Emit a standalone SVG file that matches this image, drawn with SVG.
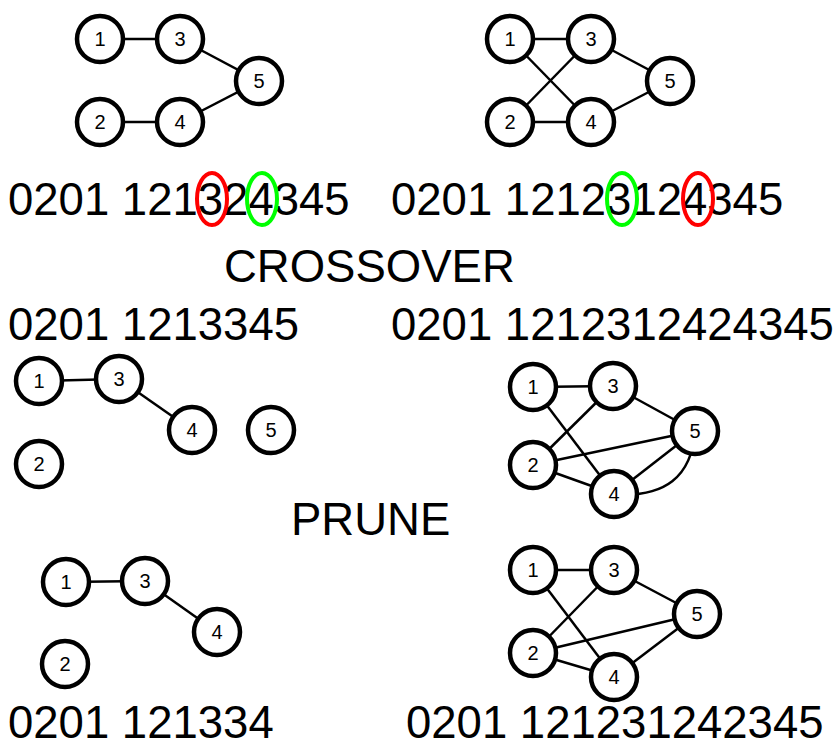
<svg xmlns="http://www.w3.org/2000/svg" width="840" height="744" viewBox="0 0 840 744">
<style>
.n circle{fill:#fff;stroke:#000;stroke-width:4.5}
.n text{font-family:"Liberation Sans",Arial,sans-serif;font-size:20px;text-anchor:middle;dominant-baseline:central}
.e line,.e path{stroke:#000;stroke-width:2.5;fill:none}
.t{font-family:"Liberation Sans",Arial,sans-serif;font-size:45.5px;fill:#000}
.ov{fill:none;stroke-width:4}
</style>
<rect width="840" height="744" fill="#fff"/>
<!-- Graph A (top-left) -->
<g class="e" id="edgesA">
<line x1="100" y1="39" x2="180" y2="39"/>
<line x1="100" y1="122" x2="180" y2="122"/>
<line x1="180" y1="39" x2="259" y2="81"/>
<line x1="180" y1="122" x2="259" y2="81"/>
</g>
<g class="n" id="A1"><circle cx="100" cy="39" r="23"/><text x="100" y="39">1</text></g>
<g class="n" id="A3"><circle cx="180" cy="39" r="23"/><text x="180" y="39">3</text></g>
<g class="n" id="A5"><circle cx="259" cy="81" r="23"/><text x="259" y="81">5</text></g>
<g class="n" id="A2"><circle cx="100" cy="122" r="23"/><text x="100" y="122">2</text></g>
<g class="n" id="A4"><circle cx="180" cy="122" r="23"/><text x="180" y="122">4</text></g>
<!-- Graph B (top-right) -->
<g class="e" id="edgesB">
<line x1="510" y1="39" x2="591" y2="39"/>
<line x1="510" y1="122" x2="591" y2="122"/>
<line x1="510" y1="39" x2="591" y2="122"/>
<line x1="510" y1="122" x2="591" y2="39"/>
<line x1="591" y1="39" x2="670" y2="81"/>
<line x1="591" y1="122" x2="670" y2="81"/>
</g>
<g class="n" id="B1"><circle cx="510" cy="39" r="23"/><text x="510" y="39">1</text></g>
<g class="n" id="B3"><circle cx="591" cy="39" r="23"/><text x="591" y="39">3</text></g>
<g class="n" id="B5"><circle cx="670" cy="81" r="23"/><text x="670" y="81">5</text></g>
<g class="n" id="B2"><circle cx="510" cy="122" r="23"/><text x="510" y="122">2</text></g>
<g class="n" id="B4"><circle cx="591" cy="122" r="23"/><text x="591" y="122">4</text></g>
<!-- Texts -->
<text class="t" x="8" y="215">0201 121324345</text>
<text class="t" x="391" y="215">0201 12123124345</text>
<ellipse class="ov" cx="212" cy="199" rx="15" ry="26" stroke="#f00"/>
<ellipse class="ov" cx="262" cy="199" rx="15" ry="26" stroke="#0f0"/>
<ellipse class="ov" cx="622" cy="199" rx="15" ry="26" stroke="#0f0"/>
<ellipse class="ov" cx="698" cy="199" rx="15" ry="26" stroke="#f00"/>
<text class="t" x="224" y="282">CROSSOVER</text>
<text class="t" x="8" y="340">0201 1213345</text>
<text class="t" x="391" y="340">0201 1212312424345</text>
<!-- Graph C (middle-left) -->
<g class="e" id="edgesC">
<line x1="39" y1="381" x2="119" y2="379"/>
<line x1="119" y1="379" x2="192" y2="430"/>
</g>
<g class="n" id="C1"><circle cx="39" cy="381" r="23"/><text x="39" y="381">1</text></g>
<g class="n" id="C3"><circle cx="119" cy="379" r="23"/><text x="119" y="379">3</text></g>
<g class="n" id="C4"><circle cx="192" cy="430" r="23"/><text x="192" y="430">4</text></g>
<g class="n" id="C5"><circle cx="271" cy="430" r="23"/><text x="271" y="430">5</text></g>
<g class="n" id="C2"><circle cx="39" cy="464" r="23"/><text x="39" y="464">2</text></g>
<!-- Graph D (middle-right) -->
<g class="e" id="edgesD">
<line x1="533" y1="387" x2="613" y2="386"/>
<line x1="533" y1="387" x2="614" y2="494"/>
<line x1="533" y1="465" x2="613" y2="386"/>
<line x1="533" y1="465" x2="695" y2="431"/>
<line x1="533" y1="465" x2="614" y2="494"/>
<line x1="613" y1="386" x2="695" y2="431"/>
<line x1="614" y1="494" x2="695" y2="431"/>
<path d="M614,494 Q690,500 695,431"/>
</g>
<g class="n" id="D1"><circle cx="533" cy="387" r="23"/><text x="533" y="387">1</text></g>
<g class="n" id="D3"><circle cx="613" cy="386" r="23"/><text x="613" y="386">3</text></g>
<g class="n" id="D5"><circle cx="695" cy="431" r="23"/><text x="695" y="431">5</text></g>
<g class="n" id="D2"><circle cx="533" cy="465" r="23"/><text x="533" y="465">2</text></g>
<g class="n" id="D4"><circle cx="614" cy="494" r="23"/><text x="614" y="494">4</text></g>
<text class="t" x="291" y="535">PRUNE</text>
<!-- Graph E (bottom-left) -->
<g class="e" id="edgesE">
<line x1="66" y1="582" x2="145" y2="581"/>
<line x1="145" y1="581" x2="217" y2="632"/>
</g>
<g class="n" id="E1"><circle cx="66" cy="582" r="23"/><text x="66" y="582">1</text></g>
<g class="n" id="E3"><circle cx="145" cy="581" r="23"/><text x="145" y="581">3</text></g>
<g class="n" id="E4"><circle cx="217" cy="632" r="23"/><text x="217" y="632">4</text></g>
<g class="n" id="E2"><circle cx="65" cy="664" r="23"/><text x="65" y="664">2</text></g>
<!-- Graph F (bottom-right) -->
<g class="e" id="edgesF">
<line x1="533" y1="570" x2="614" y2="570"/>
<line x1="533" y1="570" x2="614" y2="677"/>
<line x1="533" y1="653" x2="614" y2="570"/>
<line x1="533" y1="653" x2="697" y2="614"/>
<line x1="533" y1="653" x2="614" y2="677"/>
<line x1="614" y1="570" x2="697" y2="614"/>
<line x1="614" y1="677" x2="697" y2="614"/>
</g>
<g class="n" id="F1"><circle cx="533" cy="570" r="23"/><text x="533" y="570">1</text></g>
<g class="n" id="F3"><circle cx="614" cy="570" r="23"/><text x="614" y="570">3</text></g>
<g class="n" id="F5"><circle cx="697" cy="614" r="23"/><text x="697" y="614">5</text></g>
<g class="n" id="F2"><circle cx="533" cy="653" r="23"/><text x="533" y="653">2</text></g>
<g class="n" id="F4"><circle cx="614" cy="677" r="23"/><text x="614" y="677">4</text></g>
<text class="t" x="8" y="738">0201 121334</text>
<text class="t" x="406" y="738">0201 121231242345</text>
</svg>
